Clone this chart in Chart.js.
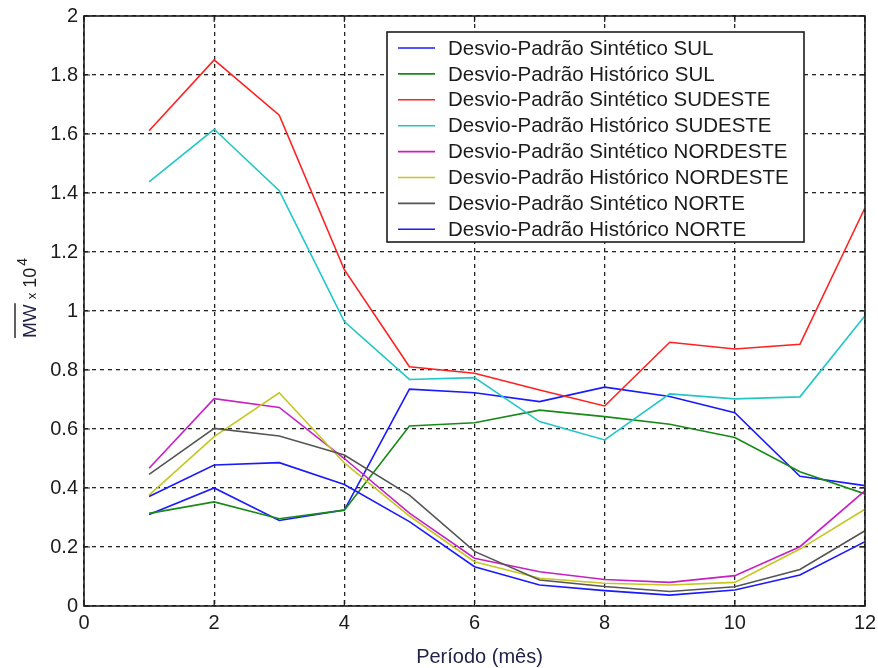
<!DOCTYPE html>
<html lang="pt">
<head>
<meta charset="utf-8">
<title>Desvio-Padrão por Período</title>
<script src="https://cdn.jsdelivr.net/npm/chart.js@4/dist/chart.umd.min.js"></script>
<style>
    html, body { margin: 0; padding: 0; background: #ffffff; }
    #wrap { width: 878px; height: 668px; position: relative; }
</style>
</head>
<body>
<div id="wrap"><canvas id="desvioChart" width="878" height="668"></canvas></div>
<script>
// ================================
// DESVIO-PADRÃO MENSAL POR SUBSISTEMA
// ================================

const months = [1, 2, 3, 4, 5, 6, 7, 8, 9, 10, 11, 12];

const sinteticoSul      = [0.310, 0.400, 0.290, 0.325, 0.735, 0.723, 0.693, 0.742, 0.710, 0.655, 0.440, 0.408];
const historicoSul      = [0.314, 0.353, 0.296, 0.325, 0.610, 0.621, 0.664, 0.642, 0.616, 0.571, 0.455, 0.380];
const sinteticoSudeste  = [1.611, 1.851, 1.664, 1.140, 0.811, 0.789, 0.732, 0.678, 0.894, 0.871, 0.887, 1.350];
const historicoSudeste  = [1.438, 1.616, 1.408, 0.964, 0.768, 0.774, 0.625, 0.563, 0.719, 0.702, 0.709, 0.984];
const sinteticoNordeste = [0.467, 0.703, 0.673, 0.500, 0.315, 0.162, 0.116, 0.090, 0.080, 0.103, 0.201, 0.391];
const historicoNordeste = [0.376, 0.574, 0.723, 0.485, 0.305, 0.150, 0.094, 0.077, 0.071, 0.080, 0.193, 0.328];
const sinteticoNorte    = [0.446, 0.602, 0.576, 0.512, 0.376, 0.185, 0.088, 0.066, 0.049, 0.065, 0.124, 0.255];
const historicoNorte    = [0.371, 0.478, 0.486, 0.412, 0.286, 0.133, 0.071, 0.052, 0.037, 0.054, 0.105, 0.218];

const seriesLabels = [
    "Desvio-Padrão Sintético SUL",
    "Desvio-Padrão Histórico SUL",
    "Desvio-Padrão Sintético SUDESTE",
    "Desvio-Padrão Histórico SUDESTE",
    "Desvio-Padrão Sintético NORDESTE",
    "Desvio-Padrão Histórico NORDESTE",
    "Desvio-Padrão Sintético NORTE",
    "Desvio-Padrão Histórico NORTE"
];

const xTicks = [0, 2, 4, 6, 8, 10, 12];
const yTicks = [0, 0.2, 0.4, 0.6, 0.8, 1, 1.2, 1.4, 1.6, 1.8, 2];
const yTickLabels = ["0", "0.2", "0.4", "0.6", "0.8", "1", "1.2", "1.4", "1.6", "1.8", "2"];

const xTitle = "Período (mês)";

const seriesValues = [
    sinteticoSul, historicoSul,
    sinteticoSudeste, historicoSudeste,
    sinteticoNordeste, historicoNordeste,
    sinteticoNorte, historicoNorte
];

const lineColors = [
    "#1a1aff", "#178a17", "#ff2020", "#22c6c6",
    "#c620c6", "#c6c620", "#555555", "#1a1aff"
];

const FONT = "'Liberation Sans', Arial, sans-serif";
const INK = "#1c1c1c";

/* ------------------------------
   FRAME, TICKS, TITLES, LEGEND
------------------------------ */
const matlabDecor = {
    id: "matlabDecor",
    afterDraw(chart) {
        const ctx = chart.ctx;
        const area = chart.chartArea;
        const xs = chart.scales.x;
        const ys = chart.scales.y;

        ctx.save();

        // inward tick marks on all four sides
        ctx.strokeStyle = INK;
        ctx.lineWidth = 1.2;
        ctx.beginPath();
        xTicks.forEach(v => {
            const px = xs.getPixelForValue(v);
            ctx.moveTo(px, area.bottom); ctx.lineTo(px, area.bottom - 6);
            ctx.moveTo(px, area.top);    ctx.lineTo(px, area.top + 6);
        });
        yTicks.forEach(v => {
            const py = ys.getPixelForValue(v);
            ctx.moveTo(area.left, py);  ctx.lineTo(area.left + 6, py);
            ctx.moveTo(area.right, py); ctx.lineTo(area.right - 6, py);
        });
        ctx.stroke();

        // axes box
        ctx.lineWidth = 1.6;
        ctx.strokeRect(area.left, area.top, area.right - area.left, area.bottom - area.top);

        // x title
        ctx.fillStyle = "#22224a";
        ctx.font = "20px " + FONT;
        ctx.textAlign = "center";
        ctx.textBaseline = "alphabetic";
        ctx.fillText(xTitle, (area.left + area.right) / 2 + 5, 663);

        // y title: overlined MW x 10^4, rotated
        ctx.save();
        ctx.translate(36, 338);
        ctx.rotate(-Math.PI / 2);
        ctx.textAlign = "left";
        ctx.fillStyle = "#22224a";
        ctx.font = "19px " + FONT;
        const mwWidth = ctx.measureText("MW").width;
        ctx.fillText("MW", 0, 0);
        ctx.strokeStyle = INK;
        ctx.lineWidth = 1.4;
        ctx.beginPath();
        ctx.moveTo(0, -21);
        ctx.lineTo(mwWidth + 1, -21);
        ctx.stroke();
        let cursor = mwWidth + 5;
        ctx.fillStyle = INK;
        ctx.font = "13px " + FONT;
        ctx.fillText("x", cursor, 0);
        cursor += ctx.measureText("x").width + 5;
        ctx.font = "18px " + FONT;
        ctx.fillText("10", cursor, 0);
        cursor += ctx.measureText("10").width + 2;
        ctx.font = "14px " + FONT;
        ctx.fillText("4", cursor, -9);
        ctx.restore();

        // legend box
        const box = { left: 387, top: 32, right: 804, bottom: 242 };
        ctx.fillStyle = "#ffffff";
        ctx.fillRect(box.left, box.top, box.right - box.left, box.bottom - box.top);
        ctx.strokeStyle = INK;
        ctx.lineWidth = 1.6;
        ctx.strokeRect(box.left, box.top, box.right - box.left, box.bottom - box.top);

        ctx.font = "20.5px " + FONT;
        ctx.textAlign = "left";
        ctx.textBaseline = "middle";
        chart.data.datasets.forEach((ds, i) => {
            const rowY = 48 + i * 25.9;
            ctx.strokeStyle = ds.borderColor;
            ctx.lineWidth = 1.6;
            ctx.beginPath();
            ctx.moveTo(398, rowY);
            ctx.lineTo(435, rowY);
            ctx.stroke();
            ctx.fillStyle = INK;
            ctx.fillText(ds.label, 448, rowY + 1);
        });

        ctx.restore();
    }
};

const ctx = document.getElementById("desvioChart");

new Chart(ctx, {
    type: "line",
    data: {
        datasets: seriesValues.map((values, i) => ({
            label: seriesLabels[i],
            data: months.map((m, k) => ({ x: m, y: values[k] })),
            borderColor: lineColors[i],
            backgroundColor: lineColors[i],
            borderWidth: 1.6,
            pointRadius: 0,
            tension: 0,
            fill: false,
            order: -i
        }))
    },
    options: {
        responsive: false,
        animation: false,
        events: [],
        layout: {
            autoPadding: false,
            padding: { left: 0, right: 13, top: 16, bottom: 0 }
        },
        plugins: {
            legend: { display: false },
            tooltip: { enabled: false }
        },
        scales: {
            x: {
                type: "linear",
                min: 0,
                max: 12,
                afterBuildTicks: scale => {
                    scale.ticks = xTicks.map(v => ({ value: v }));
                },
                afterFit: scale => {
                    scale.height = 62;
                    scale.paddingLeft = 0;
                    scale.paddingRight = 0;
                },
                ticks: {
                    color: INK,
                    font: { family: FONT, size: 20 },
                    padding: 5,
                    maxRotation: 0,
                    callback: v => String(v)
                },
                grid: {
                    color: "#262626",
                    lineWidth: 1.3,
                    drawTicks: false
                },
                border: { display: false, dash: [4, 4] }
            },
            y: {
                type: "linear",
                min: 0,
                max: 2,
                afterBuildTicks: scale => {
                    scale.ticks = yTicks.map(v => ({ value: v }));
                },
                afterFit: scale => {
                    scale.width = 84;
                    scale.paddingTop = 0;
                    scale.paddingBottom = 0;
                },
                ticks: {
                    color: INK,
                    font: { family: FONT, size: 20 },
                    padding: 6,
                    callback: v => yTickLabels[yTicks.indexOf(v)]
                },
                grid: {
                    color: "#262626",
                    lineWidth: 1.3,
                    drawTicks: false
                },
                border: { display: false, dash: [4, 4] }
            }
        }
    },
    plugins: [matlabDecor]
});
</script>
</body>
</html>
